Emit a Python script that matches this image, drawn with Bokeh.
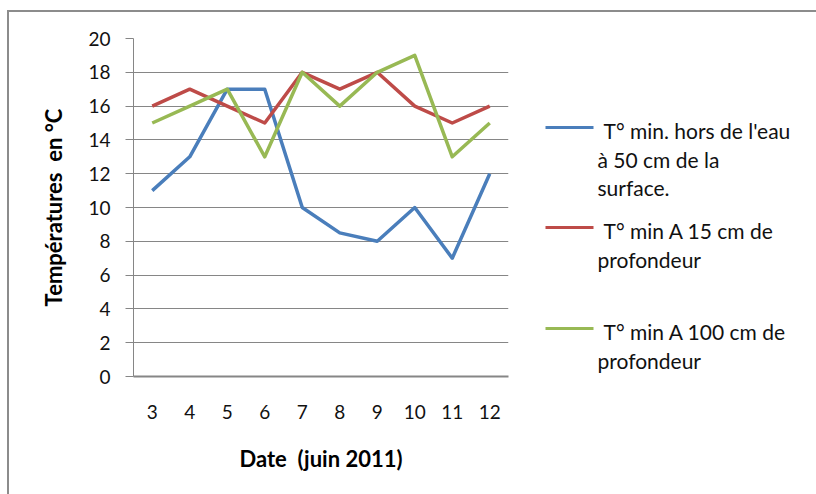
from bokeh.plotting import figure
from bokeh.layouts import row
from bokeh.models import FactorRange, Range1d, FixedTicker
from bokeh.core.properties import value
from bokeh.embed import file_html
from bokeh.resources import INLINE

# ---- data ----
dates = ["3", "4", "5", "6", "7", "8", "9", "10", "11", "12"]
t_air_50cm = [11, 13, 17, 17, 10, 8.5, 8, 10, 7, 12]
t_15cm = [16, 17, 16, 15, 18, 17, 18, 16, 15, 16]
t_100cm = [15, 16, 17, 13, 18, 16, 18, 19, 13, 15]
series_names = [
    ["T° min. hors de l'eau", "à 50 cm de la", "surface."],
    ["T° min A 15 cm de", "profondeur"],
    ["T° min A 100 cm de", "profondeur"],
]
y_ticks = [0, 2, 4, 6, 8, 10, 12, 14, 16, 18, 20]
x_title = "Date\u00a0 (juin 2011)"
y_title = "Températures\u00a0 en °C"

colors = ["#4a7ebb", "#be4b48", "#98b954"]
grid_col = "#868686"
FONT = "Lato"

BORDER_TOP, BORDER_BOTTOM = 26, 118

p = figure(width=501, height=482,
           x_range=FactorRange(factors=dates, range_padding=0),
           y_range=Range1d(0, 20),
           output_backend="svg", toolbar_location=None,
           min_border_left=124, min_border_right=2,
           min_border_top=BORDER_TOP, min_border_bottom=BORDER_BOTTOM)
p.outline_line_color = None

p.xgrid.grid_line_color = None
p.ygrid.ticker = FixedTicker(ticks=y_ticks)
p.ygrid.grid_line_color = grid_col
p.ygrid.grid_line_width = 1

ya = p.yaxis[0]
ya.ticker = FixedTicker(ticks=y_ticks)
ya.major_tick_in = 0
ya.major_tick_out = 8
ya.major_tick_line_color = grid_col
ya.minor_tick_line_color = None
ya.axis_line_color = grid_col
ya.major_label_text_font = FONT
ya.major_label_text_font_size = "19px"
ya.major_label_text_color = "#111111"
ya.major_label_standoff = 15
ya.axis_label = y_title
ya.axis_label_text_font = FONT
ya.axis_label_text_font_style = "bold"
ya.axis_label_text_font_size = "22px"
ya.axis_label_text_color = "#000000"
ya.axis_label_standoff = 18

xa = p.xaxis[0]
xa.major_tick_in = 0
xa.major_tick_out = 0
xa.axis_line_color = grid_col
xa.axis_line_width = 2
xa.major_label_text_font = FONT
xa.major_label_text_font_size = "19px"
xa.major_label_text_color = "#111111"
xa.major_label_standoff = 28
xa.axis_label = x_title
xa.axis_label_text_font = FONT
xa.axis_label_text_font_style = "bold"
xa.axis_label_text_font_size = "22px"
xa.axis_label_text_color = "#000000"
xa.axis_label_standoff = 23

all_series = [t_air_50cm, t_15cm, t_100cm]
for vals, c in zip(all_series, colors):
    p.line(dates, vals, line_color=c, line_width=3.5, line_join="round")

# ---- legend panel: its frame is aligned with the chart frame (page y 38..376) ----
LW = 306
leg = figure(width=LW, height=482, x_range=Range1d(510, 510 + LW), y_range=Range1d(376, 38),
             output_backend="svg", toolbar_location=None,
             x_axis_type=None, y_axis_type=None,
             min_border_left=0, min_border_right=0,
             min_border_top=BORDER_TOP, min_border_bottom=BORDER_BOTTOM)
leg.outline_line_color = None
leg.grid.visible = False

sample_y = [127, 227, 328]
line_gap = 28.5
for c, sy, names in zip(colors, sample_y, series_names):
    leg.segment(x0=[545], y0=[sy], x1=[593], y1=[sy], line_color=c, line_width=3)
    xs = [603] + [597] * (len(names) - 1)
    ys = [sy + 3 + i * line_gap for i in range(len(names))]
    leg.text(x=xs, y=ys, text=names, text_font=value(FONT), text_font_size="21px",
             text_color="#111111", text_baseline="middle", text_align="left")

root = row(p, leg, spacing=0,
           styles={"border-top": "2px solid #8c8c8c", "border-left": "2px solid #8c8c8c",
                   "margin-top": "10px", "margin-left": "7px"})

open("out.html", "w").write(file_html(root, INLINE))
